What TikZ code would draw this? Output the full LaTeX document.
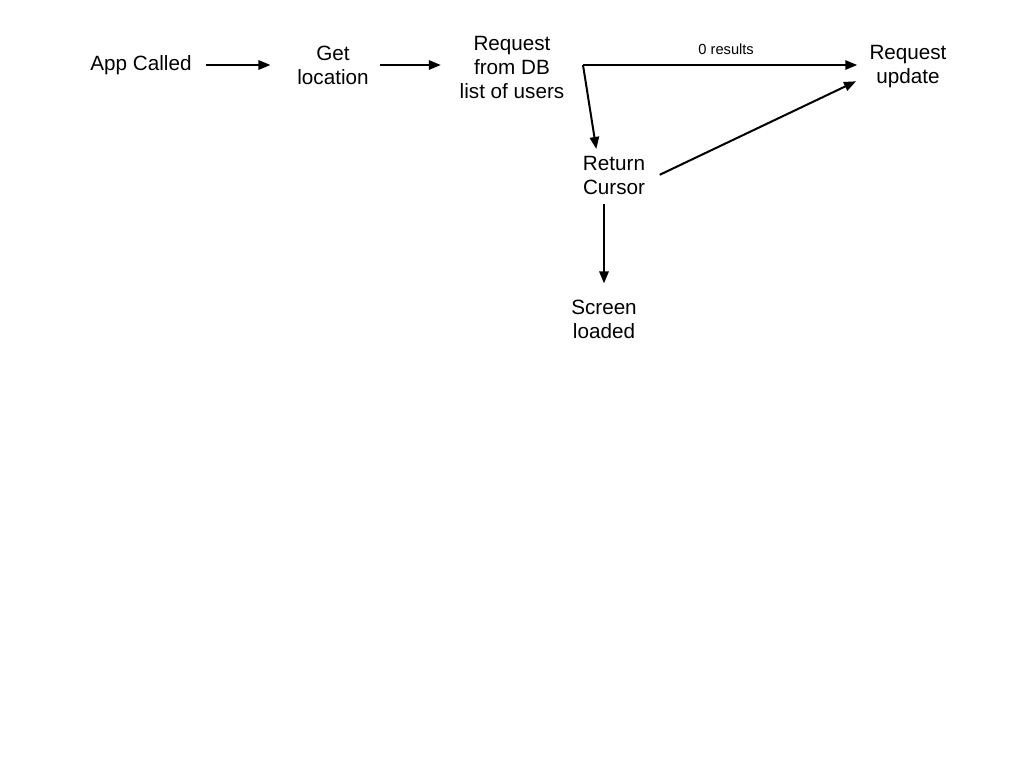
\documentclass[tikz,border=0pt]{standalone}
\usepackage{fontspec}
\setmainfont{Liberation Sans}
\usetikzlibrary{arrows.meta}

\begin{document}
\begin{tikzpicture}[x=0.75pt, y=-0.75pt, >={Triangle[length=9pt,width=7pt]},
    stage/.style ={align=center, inner sep=0pt, font=\fontsize{15.5}{18}\selectfont},
    flow/.style ={line width=1.5pt, ->}]
   \useasboundingbox (0,0) rectangle (1028,772);
   \node[stage] (app) at (141,65)  {App Called};
   \node[stage] (get) at (333,65)  {Get\\location};
   \node[stage] (req) at (512,67)  {Request\\from DB\\list of users};
   \node[stage] (upd) at (908,67)  {Request\\update};
   \node[stage] (ret) at (614,175) {Return\\Cursor};
   \node[stage] (scr) at (604,319) {Screen\\loaded};
   \coordinate (split) at (583,65);
   \draw[flow, shorten <=11pt, shorten >=20pt] (app.east) to (app.east -| get.west);
   \draw[flow, shorten <=8pt, shorten >=14pt] (get.east) to (get.east -| req.west);
   \draw[flow, shorten >=9pt] (split) to node[pos=0.5, above=4pt, font=\fontsize{11}{13}\selectfont] {0 results} (split -| upd.west);
   \draw[flow, shorten >=5pt] (split) to ([xshift=-12.5pt]ret.north);
   \draw[flow, shorten <=12pt, shorten >=11pt] ([yshift=-5pt]ret.east) to ([yshift=-6pt]upd.west);
   \draw[flow, shorten <=7.5pt, shorten >=12pt] (scr.north |- ret.south) to (scr.north);
 \end{tikzpicture}
\end{document}
